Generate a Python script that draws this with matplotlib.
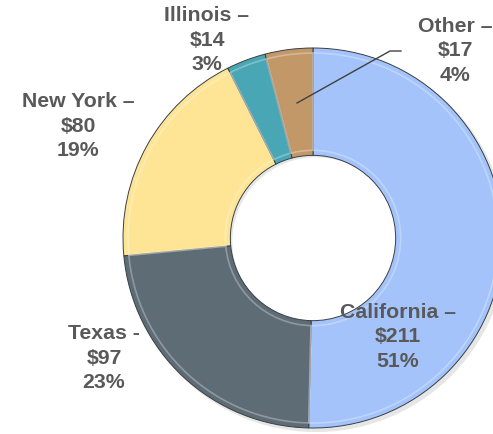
import matplotlib
matplotlib.use("Agg")
import matplotlib.pyplot as plt

# revenue by state ($) and share of total
states = ["California", "Texas", "New York", "Illinois", "Other"]
values = [211, 97, 80, 14, 17]
shares = ["51%", "23%", "19%", "3%", "4%"]
dashes = ["\u2013", "-", "\u2013", "\u2013", "\u2013"]
colors = ["#a3c3fa", "#5e6c76", "#fee595", "#48a6b5", "#c39868"]

# label anchor points in pixel coords (x, y from bottom)
label_pos = [(398, 97), (104, 76), (78, 308), (207, 394), (455, 383)]

W, H = 493, 434
fig = plt.figure(figsize=(W / 100, H / 100), dpi=100)
ax = fig.add_axes([0, 0, 1, 1])

cx, cy, r = 313, 196, 190
ring = 0.565

# soft shadow under the ring
ax.pie(values, startangle=90, counterclock=False, radius=r + 1, center=(cx + 3, cy - 3),
       colors=["#e6e6e6"] * len(values),
       wedgeprops=dict(width=r * ring, edgecolor="none"))

wedges, _ = ax.pie(values, startangle=90, counterclock=False, radius=r, center=(cx, cy),
                   colors=colors,
                   wedgeprops=dict(width=r * ring, edgecolor="#3a3f44", linewidth=0.7))

# light inner bevel line on each wedge
ax.pie(values, startangle=90, counterclock=False, radius=r - 5, center=(cx, cy),
       colors=["none"] * len(values),
       wedgeprops=dict(width=r * ring - 10, edgecolor=(1, 1, 1, 0.3), linewidth=1.2))

for name, val, pct, d, (x, y) in zip(states, values, shares, dashes, label_pos):
    txt = f"{name} {d}\n${val}\n{pct}"
    ax.text(x, y, txt, ha="center", va="center", fontsize=15.3, fontweight="bold",
            family="Liberation Sans", color="#595959", linespacing=1.34, zorder=5)

# leader line for "Other"
ax.plot([297, 390, 401], [H - 103, H - 51, H - 51], color="#404040", lw=1.0, zorder=6)

ax.set_xlim(0, W)
ax.set_ylim(0, H)
ax.set_aspect("equal")
ax.axis("off")

fig.savefig("out.png", dpi=100)
